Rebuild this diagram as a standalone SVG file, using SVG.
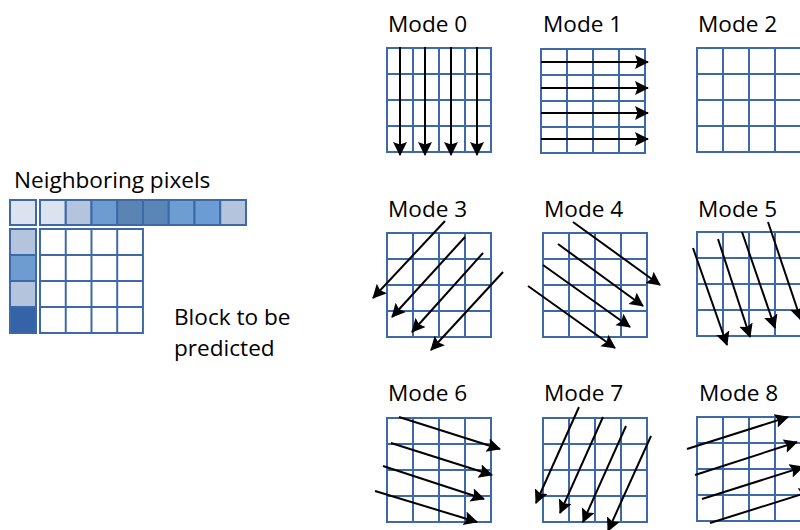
<svg xmlns="http://www.w3.org/2000/svg" width="800" height="530" viewBox="0 0 800 530">
<style>
text{font-family:"Open Sans","Liberation Sans",sans-serif;font-size:22.6px;fill:#000}
.g{fill:#fff;stroke:#3d69a9;stroke-width:2}
.c{stroke:#3d69a9;stroke-width:2}
.a{stroke:#000;stroke-width:2;fill:none;marker-end:url(#ah)}
</style>
<defs>
<marker id="ah" markerUnits="userSpaceOnUse" markerWidth="16" markerHeight="16" refX="13" refY="7" orient="auto" viewBox="0 0 16 16">
<path d="M0,0 L14,7 L0,14 L2.5,7 z" fill="#000"/>
</marker>
<path id="grid" class="g" d="M0,0 h104 v104 h-104 z M26,0 v104 M52,0 v104 M78,0 v104 M0,26 h104 M0,52 h104 M0,78 h104"/>
</defs>
<rect width="800" height="530" fill="#fff"/>

<g id="neighbors">
<text x="14" y="188">Neighboring pixels</text>
<rect class="c" x="10" y="200" width="26" height="25" fill="#dce3ee"/>
<rect class="c" x="40" y="200" width="25.75" height="25" fill="#dce3ee"/>
<rect class="c" x="65.75" y="200" width="25.75" height="25" fill="#b3c4dc"/>
<rect class="c" x="91.5" y="200" width="25.75" height="25" fill="#6f9cd0"/>
<rect class="c" x="117.25" y="200" width="25.75" height="25" fill="#5a84b3"/>
<rect class="c" x="143" y="200" width="25.75" height="25" fill="#5a86b7"/>
<rect class="c" x="168.75" y="200" width="25.75" height="25" fill="#6e9dd2"/>
<rect class="c" x="194.5" y="200" width="25.75" height="25" fill="#6b9cd4"/>
<rect class="c" x="220.25" y="200" width="25.75" height="25" fill="#b3c4dc"/>
<rect class="c" x="10" y="229" width="26" height="26" fill="#b3c4dc"/>
<rect class="c" x="10" y="255" width="26" height="26" fill="#6f9cd0"/>
<rect class="c" x="10" y="281" width="26" height="26" fill="#b3c4dc"/>
<rect class="c" x="10" y="307" width="26" height="26" fill="#3563a8"/>
</g>

<g id="block">
<use href="#grid" transform="translate(40,229) scale(0.99,1)"/>
<text x="174" y="325">Block to be</text>
<text x="174" y="356">predicted</text>
</g>

<g id="mode0"><text x="388" y="32">Mode 0</text><use href="#grid" transform="translate(387,48)"/></g>
<g id="mode1"><text x="543" y="32">Mode 1</text><use href="#grid" transform="translate(541,49)"/></g>
<g id="mode2"><text x="698" y="32">Mode 2</text><use href="#grid" transform="translate(697,48)"/></g>
<g id="mode3"><text x="388" y="217">Mode 3</text><use href="#grid" transform="translate(387,233)"/></g>
<g id="mode4"><text x="544" y="217">Mode 4</text><use href="#grid" transform="translate(543,233)"/></g>
<g id="mode5"><text x="698" y="217">Mode 5</text><use href="#grid" transform="translate(697,232)"/></g>
<g id="mode6"><text x="388" y="401">Mode 6</text><use href="#grid" transform="translate(387,418)"/></g>
<g id="mode7"><text x="544" y="401">Mode 7</text><use href="#grid" transform="translate(543,418)"/></g>
<g id="mode8"><text x="699" y="401">Mode 8</text><use href="#grid" transform="translate(697,417)"/></g>

<g id="connectors">
<line class="a" x1="400" y1="47" x2="400" y2="155"/>
<line class="a" x1="425" y1="47" x2="425" y2="155"/>
<line class="a" x1="451" y1="47" x2="451" y2="155"/>
<line class="a" x1="477" y1="47" x2="477" y2="155"/>

<line class="a" x1="541" y1="62" x2="648" y2="62"/>
<line class="a" x1="541" y1="88" x2="648" y2="88"/>
<line class="a" x1="541" y1="113" x2="648" y2="113"/>
<line class="a" x1="541" y1="139" x2="648" y2="139"/>

<line class="a" x1="445" y1="221" x2="373" y2="298"/>
<line class="a" x1="465" y1="237" x2="392" y2="317"/>
<line class="a" x1="483" y1="253" x2="412" y2="332"/>
<line class="a" x1="503" y1="272" x2="431" y2="350"/>

<line class="a" x1="573" y1="222" x2="660" y2="285"/>
<line class="a" x1="558" y1="244" x2="643" y2="306"/>
<line class="a" x1="543" y1="265" x2="630" y2="327"/>
<line class="a" x1="528" y1="286" x2="615" y2="348"/>

<line class="a" x1="693" y1="248" x2="727" y2="345"/>
<line class="a" x1="718" y1="239" x2="750" y2="337"/>
<line class="a" x1="742" y1="232" x2="775" y2="328"/>
<line class="a" x1="768" y1="222" x2="801" y2="320"/>

<line class="a" x1="399" y1="417" x2="500" y2="449"/>
<line class="a" x1="391" y1="443" x2="492" y2="475"/>
<line class="a" x1="383" y1="466" x2="484" y2="499"/>
<line class="a" x1="375" y1="491" x2="477" y2="522"/>

<line class="a" x1="579" y1="407" x2="536" y2="503"/>
<line class="a" x1="603" y1="417" x2="560" y2="513"/>
<line class="a" x1="626" y1="426" x2="583" y2="522"/>
<line class="a" x1="651" y1="436" x2="608" y2="531"/>

<line class="a" x1="687" y1="449" x2="788" y2="417"/>
<line class="a" x1="695" y1="475" x2="797" y2="442"/>
<line class="a" x1="702" y1="499" x2="803" y2="467"/>
<line class="a" x1="710" y1="523" x2="812" y2="491"/>
</g>
</svg>
